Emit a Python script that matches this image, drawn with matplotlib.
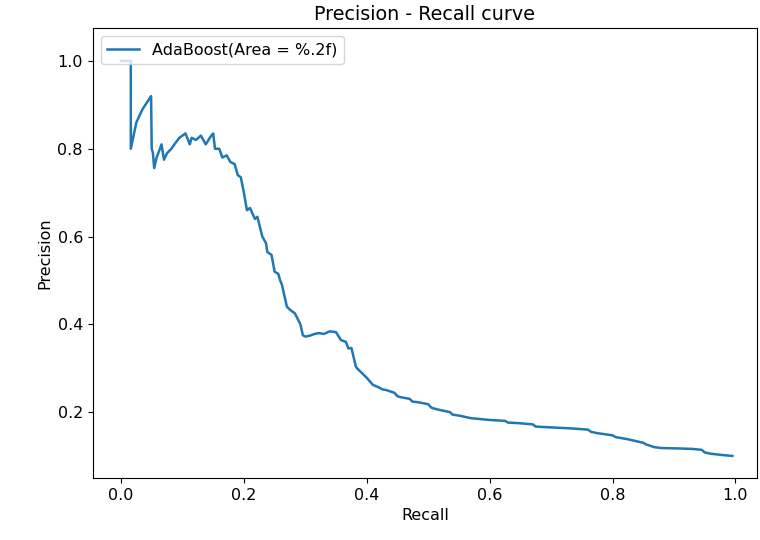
import matplotlib
matplotlib.use("Agg")
from matplotlib import pyplot as plt

# points (recall, precision)
recall = [0.0, 0.016, 0.016, 0.025, 0.035, 0.049, 0.050, 0.052, 0.054, 0.058, 0.062,
          0.066, 0.070, 0.075, 0.082, 0.088, 0.095, 0.105, 0.112, 0.115, 0.122,
          0.130, 0.138, 0.145, 0.150, 0.153, 0.160, 0.165, 0.172, 0.178, 0.185,
          0.190, 0.195, 0.200, 0.205, 0.210, 0.218, 0.222, 0.230, 0.236, 0.238,
          0.245, 0.250, 0.256, 0.259, 0.262, 0.270, 0.276, 0.283, 0.292, 0.296,
          0.300, 0.307, 0.315, 0.322, 0.330, 0.340, 0.350, 0.358, 0.366, 0.370,
          0.375, 0.382, 0.384, 0.392, 0.400, 0.405, 0.410, 0.420, 0.425, 0.432,
          0.445, 0.450, 0.455, 0.470, 0.474, 0.485, 0.500, 0.505, 0.515, 0.535,
          0.540, 0.550, 0.570, 0.600, 0.625, 0.630, 0.645, 0.670, 0.675, 0.700,
          0.730, 0.760, 0.765, 0.775, 0.800, 0.805, 0.825, 0.850, 0.855, 0.868,
          0.880, 0.910, 0.930, 0.945, 0.950, 0.960, 0.980, 0.995]
precision = [1.0, 1.0, 0.80, 0.86, 0.89, 0.92, 0.80, 0.79, 0.756, 0.78, 0.795,
             0.81, 0.775, 0.79, 0.80, 0.812, 0.825, 0.835, 0.81, 0.825, 0.82,
             0.83, 0.81, 0.826, 0.835, 0.80, 0.80, 0.78, 0.785, 0.77, 0.765,
             0.74, 0.735, 0.70, 0.66, 0.665, 0.64, 0.645, 0.60, 0.585, 0.565,
             0.558, 0.52, 0.515, 0.50, 0.49, 0.44, 0.432, 0.425, 0.40, 0.375,
             0.372, 0.374, 0.378, 0.38, 0.378, 0.384, 0.382, 0.364, 0.36, 0.345,
             0.346, 0.305, 0.30, 0.289, 0.278, 0.270, 0.262, 0.256, 0.252, 0.250,
             0.244, 0.236, 0.234, 0.230, 0.224, 0.222, 0.218, 0.210, 0.206, 0.200,
             0.194, 0.192, 0.186, 0.182, 0.180, 0.176, 0.175, 0.172, 0.167, 0.165,
             0.163, 0.160, 0.155, 0.152, 0.147, 0.143, 0.138, 0.130, 0.126, 0.120,
             0.118, 0.117, 0.116, 0.114, 0.108, 0.105, 0.102, 0.100]

plt.rcParams['font.size'] = 11.5
fig = plt.figure(figsize=(7.6, 5.4), dpi=100)
ax = fig.add_axes([0.122, 0.115, 0.874, 0.833])

ax.plot(recall, precision, color='#1f77b4', lw=1.8, label='AdaBoost(Area = %.2f)')
ax.set_xlim(-0.046, 1.035)
ax.set_ylim(0.05, 1.075)
ax.set_xticks([0.0, 0.2, 0.4, 0.6, 0.8, 1.0])
ax.set_yticks([0.2, 0.4, 0.6, 0.8, 1.0])
ax.set_title('Precision - Recall curve')
ax.set_xlabel('Recall')
ax.set_ylabel('Precision')
ax.legend(loc='upper left')

fig.savefig('out.png')
